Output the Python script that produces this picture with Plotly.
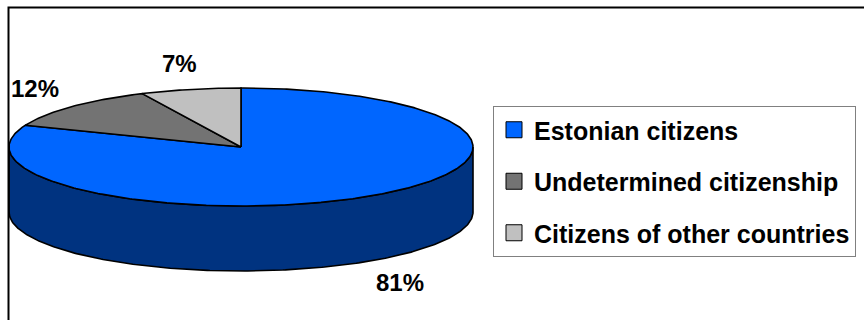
import numpy as np
import plotly.graph_objects as go

# ---- data ----
categories = ["Estonian citizens", "Undetermined citizenship", "Citizens of other countries"]
shares = [81, 12, 7]
pct_labels = ["81%", "12%", "7%"]

# ---- style ----
top_colors = ["#0066FF", "#737373", "#C0C0C0"]
side_colors = ["#003380", "#3A3A3A", "#606060"]
CX, CY, RX, RY, DEPTH = 241, 147, 232, 59, 65
FONT = "Liberation Sans, Arial, sans-serif"


def arc(a, b, dy=0.0, n=None):
    if n is None:
        n = max(int(abs(b - a) * 1.5), 2)
    t = np.radians(np.linspace(a, b, n))
    return CX + RX * np.sin(t), CY - RY * np.cos(t) + dy


cum = np.concatenate([[0.0], np.cumsum(shares)]) / float(sum(shares)) * 360.0

fig = go.Figure()

# visible side walls (front half of the disc)
for i in range(len(shares)):
    a, b = max(cum[i], 90.0), min(cum[i + 1], 270.0)
    if a < b:
        xt, yt = arc(a, b)
        xb, yb = arc(b, a, DEPTH)
        fig.add_trace(go.Scatter(
            x=np.concatenate([xt, xb, xt[:1]]), y=np.concatenate([yt, yb, yt[:1]]),
            mode="lines", fill="toself", fillcolor=side_colors[i],
            line=dict(color="black", width=1.6), hoverinfo="skip", showlegend=False))

# top faces
for i in range(len(shares)):
    xa, ya = arc(cum[i], cum[i + 1])
    fig.add_trace(go.Scatter(
        x=np.concatenate([[CX], xa, [CX]]), y=np.concatenate([[CY], ya, [CY]]),
        mode="lines", fill="toself", fillcolor=top_colors[i],
        line=dict(color="black", width=1.6), hoverinfo="skip", showlegend=False))

# legend entries
for i, name in enumerate(categories):
    fig.add_trace(go.Scatter(
        x=[None], y=[None], mode="markers", name=name, legendgroup=str(i),
        marker=dict(symbol="square", size=16, color=top_colors[i],
                    line=dict(color="black", width=1)),
        hoverinfo="skip"))

# percentage labels, placed from each slice's mid angle
for i, lab in enumerate(pct_labels):
    mid = np.radians((cum[i] + cum[i + 1]) / 2)
    lx = CX + RX * 1.22 * np.sin(mid)
    ly = CY - RY * 1.45 * np.cos(mid)
    if np.cos(mid) < 0:
        ly += DEPTH
    fig.add_annotation(x=lx, y=ly, text="<b>%s</b>" % lab, showarrow=False,
                       font=dict(family=FONT, size=24, color="black"),
                       xanchor="center", yanchor="middle")

# outer chart frame
fig.add_shape(type="rect", xref="paper", yref="paper",
              x0=8.5 / 864, y0=1 - 7.5 / 320, x1=1.1, y1=-0.1,
              line=dict(color="black", width=2), fillcolor="rgba(0,0,0,0)")

fig.update_layout(
    width=864, height=320,
    margin=dict(l=0, r=0, t=0, b=0),
    paper_bgcolor="white", plot_bgcolor="white",
    xaxis=dict(range=[0, 864], visible=False, fixedrange=True),
    yaxis=dict(range=[320, 0], visible=False, fixedrange=True),
    showlegend=True,
    legend=dict(
        x=493 / 864, y=1 - 106 / 320, xanchor="left", yanchor="top",
        bgcolor="white", bordercolor="#808080", borderwidth=1,
        font=dict(family=FONT, size=25, color="black", weight="bold"),
        traceorder="grouped", tracegroupgap=16, itemsizing="trace",
    ),
)

fig.write_html("out.html")
